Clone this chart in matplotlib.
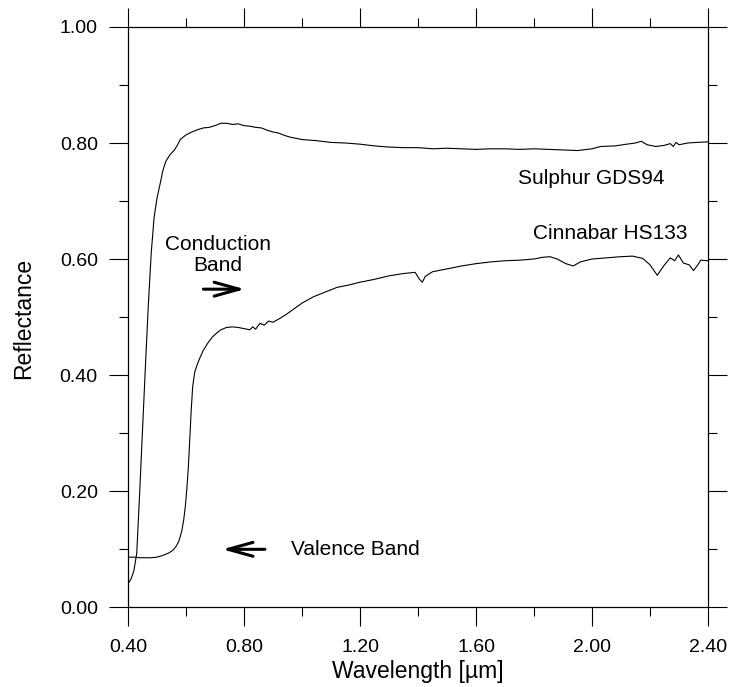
import matplotlib
matplotlib.use('Agg')
import matplotlib.pyplot as plt
from matplotlib.ticker import MultipleLocator, FormatStrFormatter

plt.rcParams['font.family'] = ['Liberation Sans', 'DejaVu Sans']

# Sulphur GDS94 spectrum
sulphur_wl = [0.400, 0.410, 0.420, 0.430, 0.440, 0.450, 0.460, 0.470, 0.480, 0.490,
              0.500, 0.510, 0.520, 0.530, 0.545, 0.560, 0.570, 0.580, 0.600, 0.620,
              0.640, 0.660, 0.680, 0.700, 0.720, 0.740, 0.760, 0.780, 0.800, 0.820,
              0.840, 0.860, 0.880, 0.900, 0.920, 0.940, 0.960, 0.980, 1.000, 1.050,
              1.100, 1.150, 1.200, 1.250, 1.300, 1.350, 1.400, 1.450, 1.500, 1.550,
              1.600, 1.650, 1.700, 1.750, 1.800, 1.850, 1.900, 1.950, 2.000, 2.030,
              2.080, 2.120, 2.150, 2.170, 2.190, 2.220, 2.250, 2.270, 2.280, 2.290,
              2.300, 2.330, 2.360, 2.400]
sulphur_refl = [0.040, 0.048, 0.062, 0.092, 0.195, 0.305, 0.415, 0.520, 0.610, 0.672,
                0.705, 0.728, 0.752, 0.768, 0.780, 0.788, 0.796, 0.806, 0.814, 0.819,
                0.823, 0.826, 0.827, 0.830, 0.834, 0.834, 0.832, 0.833, 0.830, 0.829,
                0.827, 0.826, 0.822, 0.819, 0.817, 0.813, 0.810, 0.808, 0.806, 0.804,
                0.801, 0.800, 0.798, 0.795, 0.793, 0.792, 0.792, 0.790, 0.791, 0.790,
                0.789, 0.790, 0.790, 0.789, 0.790, 0.789, 0.788, 0.787, 0.790, 0.794,
                0.795, 0.798, 0.800, 0.803, 0.797, 0.794, 0.796, 0.799, 0.794, 0.801,
                0.797, 0.800, 0.801, 0.802]

# Cinnabar HS133 spectrum
cinnabar_wl = [0.400, 0.420, 0.440, 0.460, 0.480, 0.500, 0.520, 0.540, 0.555, 0.565,
               0.575, 0.585, 0.592, 0.598, 0.603, 0.608, 0.613, 0.618, 0.623, 0.630,
               0.640, 0.650, 0.660, 0.675, 0.690, 0.705, 0.720, 0.740, 0.760, 0.780,
               0.800, 0.820, 0.830, 0.840, 0.855, 0.870, 0.885, 0.900, 0.925, 0.950,
               0.975, 1.000, 1.040, 1.080, 1.120, 1.160, 1.200, 1.250, 1.300, 1.350,
               1.390, 1.405, 1.415, 1.425, 1.450, 1.500, 1.550, 1.600, 1.650, 1.700,
               1.750, 1.800, 1.830, 1.855, 1.880, 1.910, 1.935, 1.960, 2.000, 2.050,
               2.100, 2.140, 2.175, 2.200, 2.225, 2.250, 2.270, 2.285, 2.298, 2.315,
               2.335, 2.350, 2.365, 2.375, 2.400]
cinnabar_refl = [0.086, 0.086, 0.085, 0.085, 0.085, 0.086, 0.089, 0.093, 0.098, 0.104,
                 0.113, 0.130, 0.150, 0.175, 0.205, 0.240, 0.290, 0.340, 0.380, 0.405,
                 0.420, 0.432, 0.443, 0.455, 0.465, 0.472, 0.478, 0.482, 0.483, 0.482,
                 0.480, 0.478, 0.483, 0.479, 0.489, 0.486, 0.493, 0.491, 0.498, 0.506,
                 0.515, 0.524, 0.535, 0.543, 0.551, 0.555, 0.560, 0.565, 0.571, 0.575,
                 0.577, 0.565, 0.560, 0.570, 0.578, 0.583, 0.588, 0.592, 0.595, 0.597,
                 0.598, 0.600, 0.603, 0.604, 0.600, 0.592, 0.588, 0.595, 0.600, 0.602,
                 0.604, 0.605, 0.601, 0.590, 0.572, 0.590, 0.602, 0.597, 0.607, 0.593,
                 0.590, 0.580, 0.590, 0.598, 0.597]

fig = plt.figure(figsize=(7.29, 6.87), dpi=100)
ax = fig.add_axes([0.1756, 0.1164, 0.7956, 0.8443])

ax.plot(sulphur_wl, sulphur_refl, color='black', lw=0.8)
ax.plot(cinnabar_wl, cinnabar_refl, color='black', lw=0.8)

ax.set_xlim(0.4, 2.4)
ax.set_ylim(0.0, 1.0)
ax.xaxis.set_major_locator(MultipleLocator(0.4))
ax.xaxis.set_minor_locator(MultipleLocator(0.2))
ax.yaxis.set_major_locator(MultipleLocator(0.2))
ax.yaxis.set_minor_locator(MultipleLocator(0.1))
ax.xaxis.set_major_formatter(FormatStrFormatter('%.2f'))
ax.yaxis.set_major_formatter(FormatStrFormatter('%.2f'))

ax.tick_params(which='both', direction='out', top=True, right=True, width=0.8,
               labelsize=14)
ax.tick_params(which='major', length=13.7)
ax.tick_params(which='minor', length=6.7)
ax.tick_params(axis='x', pad=9)
ax.tick_params(axis='y', pad=8)
for s in ax.spines.values():
    s.set_linewidth(0.9)

fig.text(24 / 729, 1 - 318 / 687, 'Reflectance', rotation=90, ha='center',
         va='center', fontsize=16.5)
fig.text(418 / 729, 1 - 678 / 687, 'Wavelength [\u00b5m]', ha='center',
         va='baseline', fontsize=16.5)

ax.text(1.997, 0.738, 'Sulphur GDS94', ha='center', va='center', fontsize=15)
ax.text(2.062, 0.644, 'Cinnabar HS133', ha='center', va='center', fontsize=15)
ax.text(0.711, 0.607, 'Conduction\nBand', ha='center', va='center', fontsize=15,
        linespacing=1.1)
ax.text(0.962, 0.100, 'Valence Band', ha='left', va='center', fontsize=15)

arrow = dict(arrowstyle='->,head_length=0.9,head_width=0.25', lw=2.2,
             color='black', mutation_scale=20, shrinkA=0, shrinkB=0)
ax.annotate('', xy=(0.803, 0.548), xytext=(0.66, 0.548), arrowprops=arrow)
ax.annotate('', xy=(0.725, 0.0995), xytext=(0.872, 0.0995), arrowprops=arrow)

fig.savefig('out.png', dpi=100)
